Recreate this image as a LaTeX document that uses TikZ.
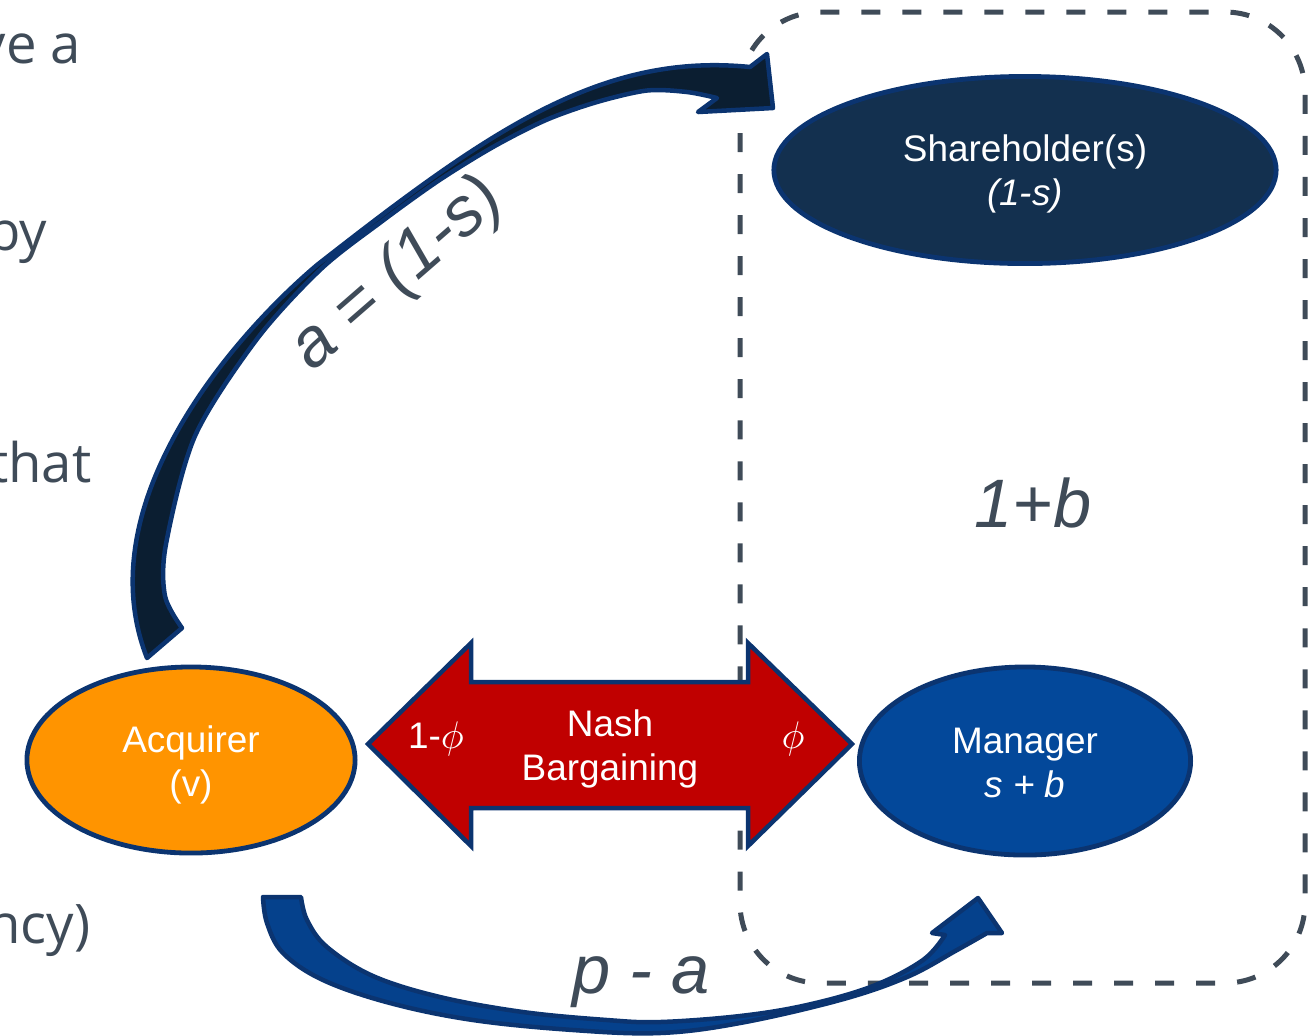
\documentclass[tikz,border=0pt]{standalone}
\usepackage{fontspec}
\setmainfont{Liberation Sans}
\newfontfamily\bodyfont{Open Sans}
\usetikzlibrary{shapes.geometric}
\definecolor{slate}{HTML}{3F4B58}
\definecolor{navyedge}{HTML}{0B3470}
\definecolor{shfill}{HTML}{13304F}
\definecolor{acqfill}{HTML}{FF9400}
\definecolor{mgrfill}{HTML}{03489A}
\definecolor{nashred}{HTML}{C00000}
\definecolor{topfill}{HTML}{0B1E31}
\definecolor{botfill}{HTML}{05418C}
\begin{document}
\begin{tikzpicture}[x=0.01cm,y=-0.01cm,
  party/.style={ellipse, draw=navyedge, line width=0.048cm, inner sep=0pt},
  lbl/.style={text=white, inner sep=0pt, align=center, font=\fontsize{10.5}{12.5}\selectfont},
  big/.style={text=slate, inner sep=0pt, font=\fontsize{19.5}{23}\selectfont\itshape},
  lefttext/.style={text=slate, inner sep=0pt, anchor=base east, font=\bodyfont\fontsize{15.5}{18}\selectfont},
  dashbox/.style={draw=slate, line width=0.05cm, dash pattern=on 0.19cm off 0.22cm, rounded corners=0.8cm},
  blockarrow/.style={draw=navyedge, line width=0.045cm, line join=round},
  nasharrow/.style={fill=nashred, draw=navyedge, line width=0.045cm, line join=miter}
]
\useasboundingbox (0,0) rectangle (1309,1035);

% clipped body text at the left edge
\begin{scope}
  \clip (0,0) rectangle (1309,1035);
  \node[lefttext] (t1) at (82,63) {ve a};
  \node[lefttext] (t2) at (48,250) {by};
  \node[lefttext] (t3) at (92,482) {that};
  \node[lefttext] (t4) at (91,943) {ncy)};
\end{scope}

% dashed group box
\draw[dashbox] (740,12) rectangle (1305,983);

% top curved block arrow (tapered)
\filldraw[blockarrow, fill=topfill]
  (147,658) .. controls (85,500) and (240,330) .. (317,265)
  .. controls (487,132) and (600,52) .. (750,67)
  -- (767,54) -- (773,108) -- (698,112) -- (717,98)
  -- plot[smooth, tension=0.5] coordinates {(717,98) (687,92) (647,90.5) (597,102) (546,120) (493,147) (438,181) (381,222) (321,269) (257,339) (195,436) (166,544) (165,596) (182,628)}
  -- cycle;

% bottom curved block arrow
\filldraw[blockarrow, fill=botfill]
  plot[smooth, tension=0.6] coordinates {(263,897) (267,923) (283,953) (323,980) (390,1003) (473,1020) (573,1030) (660,1033) (740,1023) (840,1000) (907,977) (957,950) (987,933)}
  -- (1002,933) -- (978,898) -- (932,933) -- (945,935)
  -- plot[smooth, tension=0.6] coordinates {(945,935) (923,960) (873,986) (807,1005) (740,1016) (660,1022) (607,1020) (523,1012) (440,997) (373,976) (327,947) (307,920) (301,897)}
  -- cycle;

% Nash bargaining double arrow
\filldraw[nasharrow] (368,744) -- (471,643) -- (471,682) -- (748,682) -- (748,643)
  -- (852,744) -- (748,846) -- (748,808) -- (471,808) -- (471,846) -- cycle;
\node[lbl] (nash) at (610,749) {Nash\\Bargaining};
\node[lbl, anchor=base] (phl) at (436,748) {1-$\phi$};
\node[lbl, anchor=base] (phr) at (793,748) {$\phi$};

% parties
\node[party, fill=shfill, minimum width=5.02cm, minimum height=1.87cm] (sh) at (1025,170) {};
\node[lbl] (shtxt) at (1025,174) {Shareholder(s)\\\itshape (1-s)};
\node[party, fill=acqfill, minimum width=3.28cm, minimum height=1.86cm] (acq) at (191,760) {};
\node[lbl] (acqtxt) at (191,765) {Acquirer\\(v)};
\node[party, fill=mgrfill, minimum width=3.31cm, minimum height=1.88cm] (mgr) at (1025,761) {};
\node[lbl] (mgrtxt) at (1025,763) {Manager\\\itshape s + b};

% labels
\node[big, anchor=base] (tot) at (1033,527) {1+b};
\node[big, anchor=base] (pa) at (641,993) {p - a};
\node[big, rotate=41] (aeq) at (398,275) {a = (1-s)};
\end{tikzpicture}
\end{document}
